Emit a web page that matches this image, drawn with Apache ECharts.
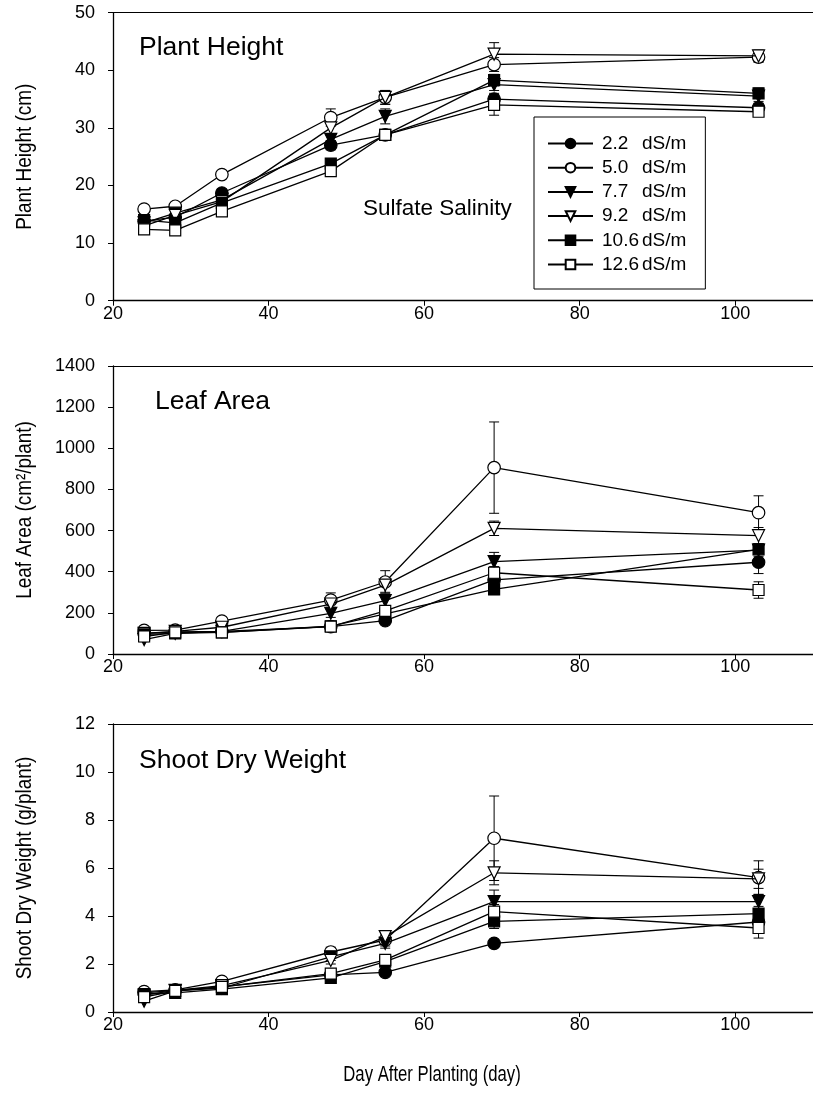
<!DOCTYPE html>
<html lang="en">
<head>
    <meta charset="UTF-8">
    <title>Sulfate Salinity</title>
    <script type="text/javascript" src="https://cdn.jsdelivr.net/npm/echarts@6.0.0/dist/echarts.min.js"></script>
    <style>
        html, body { margin: 0; padding: 0; background: #fff; }
        #ec { width: 813px; height: 1093px; }
    </style>
</head>
<body>
<div id="ec"></div>
<script>
    // sampling days (x)
    var days = [24, 28, 34, 48, 55, 69, 103];
    var levels = ['2.2', '5.0', '7.7', '9.2', '10.6', '12.6'];
    var xTicks = [20, 40, 60, 80, 100];

    // plant height (cm), one row per salinity level
    var heightMean = [
        [13.8, 14.5, 18.7, 27.0, 28.8, 35.0, 33.5],
        [15.9, 16.4, 21.9, 31.8, 35.3, 41.0, 42.3],
        [13.5, 15.2, 17.5, 28.0, 32.0, 37.5, 35.5],
        [13.0, 14.8, 17.2, 30.0, 35.3, 42.8, 42.5],
        [14.0, 13.5, 17.0, 23.8, 28.8, 38.3, 36.0],
        [12.4, 12.2, 15.5, 22.5, 28.8, 34.0, 32.8]
    ];
    var heightErr = [
        [0.5, 0.5, 0.6, 0.8, 0.8, 1.0, 0.8],
        [0.5, 0.5, 0.6, 1.5, 1.2, 1.2, 0.9],
        [0.5, 0.8, 0.6, 0.8, 1.3, 1.0, 0.9],
        [0.5, 0.5, 0.6, 1.2, 1.2, 2.0, 1.0],
        [0.5, 0.5, 0.6, 0.8, 0.8, 1.0, 0.9],
        [0.5, 0.5, 0.6, 0.8, 0.8, 1.8, 0.8]
    ];

    // leaf area (cm2/plant)
    var areaMean = [
        [100, 108, 110, 133, 162, 360, 446],
        [115, 116, 160, 262, 350, 906, 687],
        [70, 100, 110, 198, 260, 449, 505],
        [100, 110, 130, 243, 335, 611, 575],
        [95, 100, 105, 135, 195, 314, 509],
        [85, 105, 105, 133, 210, 395, 311]
    ];
    var areaErr = [
        [10, 10, 10, 15, 15, 30, 55],
        [10, 10, 15, 35, 55, 222, 82],
        [10, 10, 10, 20, 25, 45, 30],
        [10, 10, 10, 25, 35, 35, 40],
        [10, 10, 10, 15, 20, 25, 20],
        [10, 10, 10, 15, 20, 30, 40]
    ];

    // shoot dry weight (g/plant)
    var weightMean = [
        [0.80, 0.90, 1.05, 1.55, 1.65, 2.86, 3.75],
        [0.85, 0.92, 1.28, 2.50, 3.00, 7.24, 5.60],
        [0.45, 0.88, 1.00, 2.30, 2.86, 4.60, 4.60],
        [0.70, 0.90, 1.10, 2.15, 3.14, 5.80, 5.55],
        [0.75, 0.80, 0.95, 1.42, 2.10, 3.78, 4.10],
        [0.62, 0.88, 1.05, 1.60, 2.17, 4.18, 3.50]
    ];
    var weightErr = [
        [0.05, 0.05, 0.08, 0.10, 0.12, 0.15, 0.30],
        [0.05, 0.05, 0.08, 0.20, 0.25, 1.76, 0.70],
        [0.05, 0.05, 0.08, 0.15, 0.20, 0.48, 0.30],
        [0.05, 0.05, 0.08, 0.15, 0.25, 0.50, 0.40],
        [0.05, 0.05, 0.08, 0.10, 0.12, 0.30, 0.30],
        [0.05, 0.05, 0.08, 0.10, 0.12, 0.30, 0.42]
    ];

    var symbols = ['circle', 'circle', 'triangle', 'triangle', 'rect', 'rect'];
    var filled = [true, false, true, false, true, false];
    var sizes = [12.5, 12.5, 12, 12, 11, 11];

    var fontMain = 'Liberation Sans, Arial, Helvetica, sans-serif';

    var panels = [
        {mean: heightMean, err: heightErr, min: 0, max: 50, step: 10, name: 'Plant Height (cm)', top: 12.7},
        {mean: areaMean, err: areaErr, min: 0, max: 1400, step: 200, name: 'Leaf Area (cm\u00b2/plant)', top: 366},
        {mean: weightMean, err: weightErr, min: 0, max: 12, step: 2, name: 'Shoot Dry Weight (g/plant)', top: 724}
    ];

    function names(i) {
        return levels[i] + ' dS/m';
    }

    function renderErr(params, api) {
        var x = api.value(0);
        var lo = api.coord([x, api.value(1)]);
        var hi = api.coord([x, api.value(2)]);
        var w = 5;
        var st = {stroke: '#000', lineWidth: 1};
        return {
            type: 'group',
            children: [
                {type: 'line', shape: {x1: lo[0], y1: lo[1], x2: hi[0], y2: hi[1]}, style: st},
                {type: 'line', shape: {x1: hi[0] - w, y1: hi[1], x2: hi[0] + w, y2: hi[1]}, style: st},
                {type: 'line', shape: {x1: lo[0] - w, y1: lo[1], x2: lo[0] + w, y2: lo[1]}, style: st}
            ]
        };
    }

    var grids = [], xAxes = [], yAxes = [], series = [], titles = [];
    panels.forEach(function (p, g) {
        grids.push({left: 113, top: p.top, width: 703, height: 288});
        xAxes.push({
            type: 'value', gridIndex: g, min: 20, max: 110, interval: 20,
            axisLine: {lineStyle: {color: '#000', width: 1.3}},
            axisTick: {inside: false, length: 5, lineStyle: {color: '#000'}},
            axisLabel: {
                color: '#000', fontSize: 18, fontFamily: fontMain, margin: 4, showMaxLabel: false,
                formatter: function (v) { return xTicks.indexOf(v) >= 0 ? String(v) : ''; }
            },
            splitLine: {show: false}
        });
        xAxes.push({
            type: 'value', gridIndex: g, position: 'top', min: 20, max: 110,
            axisLine: {lineStyle: {color: '#000', width: 1}},
            axisTick: {show: false}, axisLabel: {show: false}, splitLine: {show: false}
        });
        yAxes.push({
            type: 'value', gridIndex: g, min: p.min, max: p.max, interval: p.step,
            axisLine: {show: true, lineStyle: {color: '#000', width: 1.3}},
            axisTick: {show: true, inside: false, length: 5, lineStyle: {color: '#000'}},
            axisLabel: {
                color: '#000', fontSize: 18, fontFamily: fontMain, margin: 18,
                formatter: function (v) { return String(v); }
            },
            splitLine: {show: false}
        });
        // rotated, narrowed axis title
        titles.push({
            type: 'text', x: 25, y: p.top + 144, rotation: Math.PI / 2, scaleX: 0.86,
            style: {text: p.name, fontSize: 22, fontFamily: fontMain, fill: '#000', align: 'center', verticalAlign: 'middle'}
        });

        for (var i = 0; i < levels.length; i++) {
            var errData = [];
            var lineData = [];
            for (var j = 0; j < days.length; j++) {
                lineData.push([days[j], p.mean[i][j]]);
                errData.push([days[j], p.mean[i][j] - p.err[i][j], p.mean[i][j] + p.err[i][j]]);
            }
            series.push({
                type: 'custom', xAxisIndex: 2 * g, yAxisIndex: g,
                renderItem: renderErr, data: errData, z: 2, silent: true,
                encode: {x: 0, y: [1, 2]}
            });
            series.push({
                name: names(i), type: 'line', xAxisIndex: 2 * g, yAxisIndex: g,
                data: lineData, z: 3 + i,
                symbol: symbols[i], symbolSize: sizes[i],
                symbolRotate: symbols[i] === 'triangle' ? 180 : 0,
                showAllSymbol: true,
                lineStyle: {color: '#000', width: 1.3},
                itemStyle: {color: filled[i] ? '#000' : '#fff', borderColor: '#000', borderWidth: 1.2},
                emphasis: {disabled: true},
                animation: false
            });
        }
    });

    titles.push(
        {type: 'text', left: 139, top: 34, style: {text: 'Plant Height', fontSize: 26.5, fontFamily: fontMain, fill: '#000'}},
        {type: 'text', left: 155, top: 388, style: {text: 'Leaf Area', fontSize: 26.5, fontFamily: fontMain, fill: '#000'}},
        {type: 'text', left: 139, top: 747, style: {text: 'Shoot Dry Weight', fontSize: 26.5, fontFamily: fontMain, fill: '#000'}},
        {type: 'text', left: 363, top: 197, style: {text: 'Sulfate Salinity', fontSize: 22.5, fontFamily: fontMain, fill: '#000'}},
        {
            type: 'text', x: 432, y: 1075, scaleX: 0.76,
            style: {text: 'Day After Planting (day)', fontSize: 22, fontFamily: fontMain, fill: '#000', align: 'center', verticalAlign: 'middle'}
        }
    );

    var myChart = echarts.init(document.getElementById('ec'));
    myChart.setOption({
        animation: false,
        backgroundColor: '#fff',
        grid: grids,
        xAxis: xAxes,
        yAxis: yAxes,
        legend: {
            data: levels.map(function (l, i) { return names(i); }),
            orient: 'vertical',
            left: 534, top: 117,
            padding: [17, 19, 15, 13],
            itemWidth: 45, itemHeight: 12, itemGap: 5.2,
            borderColor: '#000', borderWidth: 1,
            selectedMode: false,
            formatter: function (n) {
                var parts = n.split(' ');
                return '{a|' + parts[0] + '}{b|' + parts[1] + '}';
            },
            textStyle: {
                color: '#000', fontSize: 19, lineHeight: 18, fontFamily: fontMain,
                rich: {
                    a: {width: 40, padding: [0, 0, 0, 4], fontSize: 19, lineHeight: 18, fontFamily: fontMain, color: '#000'},
                    b: {fontSize: 19, lineHeight: 18, fontFamily: fontMain, color: '#000'}
                }
            }
        },
        graphic: titles,
        series: series
    });
</script>
</body>
</html>
